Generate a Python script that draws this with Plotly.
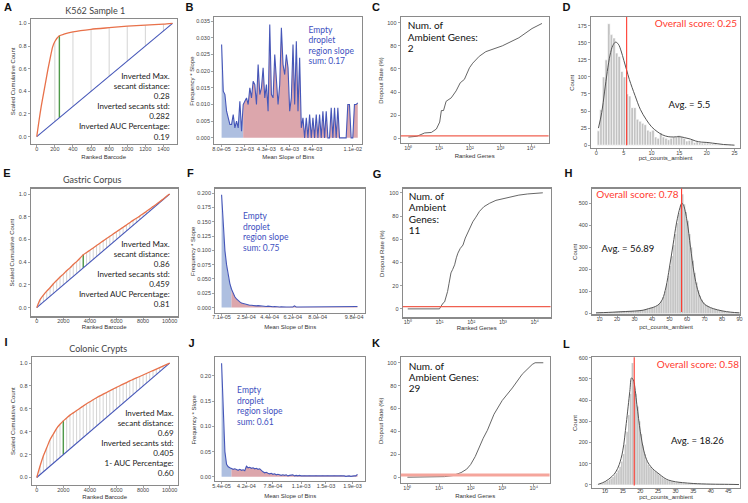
import plotly.graph_objects as go

W, H = 748, 503

# ======================= DATA =======================
# ---- Panel A : K562 Sample 1 (barcode rank curve) ----
a_barcode = [0, 25, 50, 75, 100, 125, 150, 175, 200, 250, 300, 400, 600, 800, 1000, 1200, 1400, 1500]
a_scaled = [0, 0.14, 0.27, 0.38, 0.49, 0.60, 0.70, 0.79, 0.84, 0.89, 0.905, 0.925, 0.948, 0.962, 0.975, 0.984, 0.993, 1.0]
a_secants = [200, 400, 600, 800, 1000, 1200, 1400]
a_max_secant = 250
a_text = ["Inverted Max.", "secant distance:", "0.28", "Inverted secants std:", "0.282",
          "Inverted AUC Percentage:", "0.19"]

# ---- Panel E : Gastric Corpus ----
e_barcode = list(range(0, 10001, 250))
e_scaled = [0, 0.07, 0.11, 0.145, 0.175, 0.21, 0.24, 0.27, 0.295, 0.325, 0.35, 0.38, 0.405, 0.435,
            0.465, 0.485, 0.505, 0.525, 0.547, 0.567, 0.588, 0.608, 0.628, 0.648, 0.668, 0.688,
            0.708, 0.728, 0.748, 0.768, 0.787, 0.806, 0.826, 0.847, 0.868, 0.89, 0.91, 0.932,
            0.955, 0.978, 1.0]
e_max_secant = 3500
e_text = ["Inverted Max.", "secant distance:", "0.86", "Inverted secants std:", "0.459",
          "Inverted AUC Percentage:", "0.81"]

# ---- Panel I : Colonic Crypts ----
i_barcode = list(range(0, 10001, 250))
i_scaled = [0, 0.10, 0.19, 0.26, 0.33, 0.38, 0.43, 0.465, 0.495, 0.52, 0.545, 0.565, 0.585, 0.605,
            0.625, 0.645, 0.662, 0.68, 0.697, 0.713, 0.728, 0.743, 0.758, 0.773, 0.788, 0.802,
            0.816, 0.83, 0.844, 0.857, 0.87, 0.883, 0.896, 0.909, 0.922, 0.935, 0.948, 0.961,
            0.974, 0.987, 1.0]
i_max_secant = 2000
i_text = ["Inverted Max.", "secant distance:", "0.69", "Inverted secants std:", "0.405",
          "1- AUC Percentage:", "0.60"]

# ---- Panel B : frequency * slope per bin ----
b_values = [0.028, 0.014, 0.013, 0.008, 0.006, 0.004, 0.004, 0.007, 0.003, 0.005, 0.003, 0.011,
            0.002, 0.010, 0.011, 0.012, 0.010, 0.015, 0.012, 0.017, 0.016, 0.010, 0.022, 0.013,
            0.015, 0.021, 0.012, 0.016, 0.008, 0.034, 0.013, 0.012, 0.025, 0.018, 0.010, 0.016,
            0.033, 0.022, 0.019, 0.025, 0.021, 0.008, 0.012, 0.028, 0.010, 0.029, 0.008, 0.024,
            0.003, 0.006, 0.000, 0.006, 0.000, 0.007, 0.000, 0.006, 0.000, 0.007, 0.000, 0.007,
            0.000, 0.008, 0.000, 0.008, 0.000, 0.000, 0.009, 0.000, 0.009, 0.000, 0.009, 0.000,
            0.000, 0.000, 0.000, 0.000, 0.010, 0.010, 0.000, 0.000, 0.010, 0.010, 0.0105]
b_split = 13
b_tickpos = [0, 14, 27, 41, 55, 79]
b_ticklabels = ["8.0e-05", "2.2e-03", "4.3e-03", "6.4e-03", "8.4e-03", "1.1e-02"]
b_text = ["Empty", "droplet", "region slope", "sum: 0.17"]

# ---- Panel F ----
f_values = [0.197, 0.14, 0.10, 0.075, 0.055, 0.042, 0.032, 0.025, 0.019, 0.015, 0.012, 0.010,
            0.008, 0.007, 0.006, 0.005, 0.0045, 0.004, 0.004, 0.0035, 0.003, 0.003, 0.0035, 0.003,
            0.0025, 0.002, 0.002, 0.002, 0.0025, 0.002, 0.0015, 0.0015, 0.002, 0.0015, 0.0015,
            0.001, 0.0015, 0.001, 0.001, 0.001, 0.001, 0.001, 0.0015, 0.001, 0.003, 0.001, 0.001,
            0.001, 0.001, 0.0008, 0.001, 0.0008, 0.001, 0.0008, 0.0008, 0.001, 0.0008, 0.0008,
            0.001, 0.0008, 0.0008, 0.0008, 0.001, 0.0008, 0.0008, 0.0008, 0.0008, 0.001, 0.0008,
            0.0008, 0.0008, 0.0008, 0.001, 0.0008, 0.0008, 0.0008, 0.0008, 0.0008, 0.001, 0.0008,
            0.0008, 0.001, 0.002]
f_split = 6
f_tickpos = [0, 15, 29, 43, 58, 80]
f_ticklabels = ["7.1e-05", "2.5e-04", "4.4e-04", "6.2e-04", "8.0e-04", "9.8e-04"]
f_text = ["Empty", "droplet", "region slope", "sum: 0.75"]

# ---- Panel J ----
j_values = [0.225, 0.12, 0.05, 0.025, 0.02, 0.018, 0.016, 0.015, 0.016, 0.014, 0.013, 0.015,
            0.013, 0.014, 0.012, 0.021, 0.018, 0.019, 0.017, 0.018, 0.016, 0.017, 0.015, 0.016,
            0.012, 0.010, 0.008, 0.009, 0.007, 0.006, 0.007, 0.005, 0.006, 0.004, 0.005, 0.004,
            0.003, 0.004, 0.003, 0.004, 0.002, 0.003, 0.003, 0.004, 0.002, 0.003, 0.002, 0.003,
            0.002, 0.002, 0.003, 0.002, 0.002, 0.003, 0.002, 0.002, 0.002, 0.003, 0.002, 0.002,
            0.002, 0.003, 0.002, 0.002, 0.003, 0.002, 0.002, 0.002, 0.003, 0.002, 0.002, 0.002,
            0.003, 0.002, 0.002, 0.001, 0.002, 0.002, 0.001, 0.002, 0.002, 0.002, 0.005]
j_split = 6
j_tickpos = [0, 15, 31, 48, 63, 79]
j_ticklabels = ["5.4e-05", "4.2e-04", "7.8e-04", "1.1e-03", "1.5e-03", "1.9e-03"]
j_text = ["Empty", "droplet", "region slope", "sum: 0.61"]

# ---- Panel C / G / K : dropout rate vs ranked genes ----
log_tickvals = [1, 10, 100, 1000, 10000]
log_ticktext = ["10⁰", "10¹", "10²", "10³", "10⁴"]

c_rank = [1, 1.9, 3.4, 5.6, 8.2, 10.5, 11.9, 14, 17, 25, 36, 49, 67, 98, 125, 205, 335, 1150, 4000, 10700, 22600]
c_dropout = [1, 1.7, 4.6, 5, 8, 14, 24, 24, 32, 35, 41, 48, 51, 61, 65, 71, 75, 80, 87, 95, 99.4]
c_text = ["Num. of", "Ambient Genes:", "2"]

g_rank = [1, 2, 5, 10, 11, 12, 13, 14.5, 16, 18, 20, 23, 26, 30, 34, 38, 45, 55, 65, 78, 95, 112,
          140, 182, 250, 380, 600, 1000, 2000, 3160, 6000, 10000, 18000]
g_dropout = [0, 0, 0, 0, 2, 4, 5, 6, 10, 15, 22, 31, 34, 38, 44, 48, 52, 55, 61, 66, 70, 75, 79,
             84, 88, 91, 93.5, 95, 97, 98, 99, 99.5, 100]
g_text = ["Num. of", "Ambient", "Genes:", "11"]

k_rank = [1, 5, 10, 15, 27, 50, 75, 100, 140, 186, 250, 340, 550, 1000, 2100, 4300, 8900, 11000, 20000]
k_dropout = [0, 0, 0, 0.5, 1.4, 4, 7, 11, 18, 26.5, 34, 41, 55, 67, 78, 90, 98.5, 100, 100]
k_text = ["Num. of", "Ambient Genes:", "29"]
ambient_threshold = 2

# ---- Panel D : pct_counts_ambient histogram ----
d_bin_start, d_bin_width = 0.4, 0.47
d_counts = [21, 52, 100, 125, 178, 162, 157, 135, 130, 108, 100, 75, 72, 55, 55, 38, 35, 32, 30,
            22, 20, 22, 12, 10, 18, 12, 10, 8, 10, 12, 12, 14, 12, 10, 6, 7, 8, 4, 5, 4, 3, 3, 3,
            2, 2, 2, 1, 1, 1, 1, 0, 1]
d_kde_x = [0.4, 1, 1.5, 2, 2.5, 3, 3.5, 4, 4.5, 5, 5.5, 6, 7, 8, 9, 10, 11, 12, 13, 14, 15, 16,
           17, 18, 19, 20, 21, 22, 23, 24, 25]
d_kde_y = [25, 48, 78, 108, 132, 146, 151, 148, 138, 124, 110, 96, 73, 52, 38, 27, 20, 15, 12.5,
           12, 12.5, 11, 9, 6, 4.5, 4, 3, 2, 1, 0.5, 0]
d_avg = 5.5
d_score = "Overall score: 0.25"

# ---- Panel H ----
h_bin_start, h_bin_width = 8.5, 1.0
h_counts = [3, 3, 4, 4, 5, 5, 5, 6, 6, 7, 7, 8, 8, 9, 9, 10, 10, 10, 10, 11, 11, 12, 12, 13, 14,
            15, 16, 18, 20, 22, 24, 26, 28, 30, 33, 38, 45, 55, 75, 100, 135, 170, 215, 260, 310,
            360, 410, 455, 490, 540, 495, 460, 420, 360, 300, 240, 185, 140, 105, 80, 62, 50, 42,
            36, 31, 27, 24, 21, 19, 17, 15, 13, 11, 10, 8, 7, 6, 5, 4, 3, 3, 2]
h_kde_x = [8, 15, 20, 25, 30, 35, 38, 40, 42, 44, 46, 48, 50, 52, 54, 56, 57, 58, 60, 62, 64, 66,
           68, 70, 72, 75, 80, 85, 90]
h_kde_y = [3, 5, 7, 9, 11, 15, 22, 26, 32, 42, 65, 120, 210, 310, 410, 480, 500, 490, 420, 300,
           185, 110, 65, 42, 32, 22, 12, 6, 3]
h_avg = 56.89
h_score = "Overall score: 0.78"

# ---- Panel L ----
l_bin_start, l_bin_width = 7.75, 0.5
l_counts = [1, 2, 4, 7, 10, 14, 18, 24, 30, 37, 45, 55, 68, 85, 110, 145, 190, 250, 330, 430, 575,
            480, 430, 370, 300, 240, 185, 145, 115, 95, 85, 78, 70, 62, 55, 48, 42, 36, 30, 25,
            21, 18, 16, 14, 12, 11, 10, 9, 8, 7, 7, 6, 6, 5, 5, 5, 4, 4, 4, 4, 3, 3, 3, 3, 3, 3,
            2, 2, 2, 2, 2, 2, 2, 2, 2, 1, 1, 1, 1, 1, 1]
l_kde_x = [8, 10, 12, 13, 14, 15, 16, 17, 17.5, 18, 19, 20, 21, 22, 23, 24, 25, 26, 27, 28, 30,
           32, 35, 40, 45, 48]
l_kde_y = [2, 15, 40, 60, 95, 160, 290, 440, 505, 495, 380, 250, 160, 110, 85, 68, 55, 42, 30,
           22, 14, 10, 6, 3, 2, 1]
l_avg = 18.26
l_score = "Overall score: 0.58"

# ======================= STYLE =======================
ORANGE = "#e8714a"
BLUE = "#4556b8"
GREEN = "#4f9a4a"
SECANT = "#cfcfcf"
FILL_BLUE = "rgba(160,180,218,0.85)"
FILL_PINK = "rgba(214,150,158,0.85)"
TEXT_BLUE = "#4050c0"
RED = "#ff3b30"
BAR = "#c2c2c2"
FRAME = "#8a8a8a"
TICKFONT = dict(size=5.5, color="#444", family="Liberation Sans")
TEXT_FAMILY = "Lato"

fig = go.Figure()
layout = dict(width=W, height=H, margin=dict(l=0, r=0, t=0, b=0), showlegend=False,
              paper_bgcolor="white", plot_bgcolor="rgba(0,0,0,0)")
annotations = []
shapes = []
OV_X, OV_Y = "x13", "y13"   # full-page overlay axes used for text placement (pixel units)


def px_dom(box):
    l, t, r, b = box
    return [l / W, r / W], [1 - b / H, 1 - t / H]


def set_axes(n, box, xr, yr, xkw=None, ykw=None):
    xd, yd = px_dom(box)
    base = dict(showline=True, mirror=True, linecolor=FRAME, linewidth=1.2, showgrid=False,
                zeroline=False, ticks="outside", ticklen=2, tickwidth=0.6, tickcolor="#666",
                tickfont=TICKFONT, fixedrange=True, tickangle=0)
    sfx = str(n) if n > 1 else ""
    xa = dict(base, domain=xd, range=xr, anchor="y" + sfx, ticklabelstandoff=-3)
    ya = dict(base, domain=yd, range=yr, anchor="x" + sfx)
    xa.update(xkw or {})
    ya.update(ykw or {})
    layout["xaxis" + sfx] = xa
    layout["yaxis" + sfx] = ya
    return "x" + sfx, "y" + sfx


def txt(x, y, s, size=8, color="#222", pos="middle center", family=TEXT_FAMILY):
    fig.add_trace(go.Scatter(x=[x], y=[y], mode="text", text=[s], textposition=pos,
                             textfont=dict(size=size, color=color, family=family),
                             xaxis=OV_X, yaxis=OV_Y, hoverinfo="skip", cliponaxis=False))


def vtxt(x, y, s, size=6, color="#333", family="Liberation Sans"):
    annotations.append(dict(xref="paper", yref="paper", x=x / W, y=1 - y / H, text=s,
                            showarrow=False, xanchor="center", yanchor="middle", textangle=-90,
                            font=dict(size=size, color=color, family=family)))


def axis_titles(xt, xpos, yt, ypos):
    txt(xpos[0], xpos[1], xt, size=6, color="#333", family="Liberation Sans")
    vtxt(ypos[0], ypos[1], yt)


# ---------- barcode-rank panels ----------
def barcode_panel(n, box, xr, yr, bx, by, secants, max_sec, lines, text_right, text_y0, xticks):
    xa, ya = set_axes(n, box, xr, yr,
                      dict(tickvals=xticks, tickformat="d"),
                      dict(tickvals=[0, 0.2, 0.4, 0.6, 0.8, 1.0], tickformat=".1f"))
    xmax = bx[-1]
    sx, sy = [], []
    for s in secants:
        idx = bx.index(s)
        sx += [s, s, None]
        sy += [s / xmax, by[idx], None]
    fig.add_trace(go.Scatter(x=sx, y=sy, mode="lines", line=dict(color=SECANT, width=0.9),
                             xaxis=xa, yaxis=ya))
    idx = bx.index(max_sec)
    fig.add_trace(go.Scatter(x=[max_sec, max_sec], y=[max_sec / xmax, by[idx]], mode="lines",
                             line=dict(color=GREEN, width=1.4), xaxis=xa, yaxis=ya))
    fig.add_trace(go.Scatter(x=[0, xmax], y=[0, 1], mode="lines", line=dict(color=BLUE, width=1.1),
                             xaxis=xa, yaxis=ya))
    fig.add_trace(go.Scatter(x=bx, y=by, mode="lines",
                             line=dict(color=ORANGE, width=1.3, shape="spline", smoothing=0.6),
                             xaxis=xa, yaxis=ya))
    return lines, text_right, text_y0


barcode_texts = [
    barcode_panel(1, (28, 17, 175, 143), [-66, 1545], [-0.064, 1.04], a_barcode, a_scaled,
                  a_secants, a_max_secant, a_text, 168, 76, [0, 200, 400, 600, 800, 1000, 1200, 1400]),
    barcode_panel(5, (28, 188, 176, 317), [-450, 10600], [-0.078, 1.049], e_barcode, e_scaled,
                  e_barcode[1:-1], e_max_secant, e_text, 168, 245, [0, 2000, 4000, 6000, 8000, 10000]),
    barcode_panel(9, (29, 358, 176, 487), [-375, 10600], [-0.067, 1.052], i_barcode, i_scaled,
                  i_barcode[1:-1], i_max_secant, i_text, 172, 415, [0, 2000, 4000, 6000, 8000, 10000]),
]


# ---------- slope panels ----------
def slope_panel(n, box, xr, yr, vals, split, tpos, tlab, yticks, yfmt, lines, tx, ty0):
    xa, ya = set_axes(n, box, xr, yr, dict(tickvals=tpos, ticktext=tlab),
                      dict(tickvals=yticks, tickformat=yfmt))
    idx = list(range(len(vals)))
    fig.add_trace(go.Scatter(x=idx[:split + 1], y=vals[:split + 1], mode="none", fill="tozeroy",
                             fillcolor=FILL_BLUE, xaxis=xa, yaxis=ya))
    fig.add_trace(go.Scatter(x=idx[split:], y=vals[split:], mode="none", fill="tozeroy",
                             fillcolor=FILL_PINK, xaxis=xa, yaxis=ya))
    fig.add_trace(go.Scatter(x=idx, y=vals, mode="lines", line=dict(color=BLUE, width=1.1),
                             xaxis=xa, yaxis=ya))
    return lines, tx, ty0


slope_texts = [
    slope_panel(2, (213, 15, 362, 143), [-4.4, 84.6], [-0.0018, 0.0363], b_values, b_split,
                b_tickpos, b_ticklabels, [0, 0.005, 0.01, 0.015, 0.02, 0.025, 0.03, 0.035], ".3f",
                b_text, 308, 29),
    slope_panel(6, (214, 188, 365, 313), [-3.8, 86.6], [-0.0086, 0.208], f_values, f_split,
                f_tickpos, f_ticklabels, [0, 0.025, 0.05, 0.075, 0.1, 0.125, 0.15, 0.175, 0.2], ".3f",
                f_text, 242, 217),
    slope_panel(10, (214, 358, 365, 483), [-3.8, 86.6], [-0.0085, 0.237], j_values, j_split,
                j_tickpos, j_ticklabels, [0, 0.05, 0.1, 0.15, 0.2], ".2f",
                j_text, 236, 392),
]


# ---------- dropout panels ----------
def dropout_panel(n, box, xr, yr, rank, drop, lines, tx, ty0, red_w, red_c):
    xa, ya = set_axes(n, box, xr, yr,
                      dict(type="log", tickvals=log_tickvals, ticktext=log_ticktext),
                      dict(tickvals=[0, 20, 40, 60, 80, 100]))
    shapes.append(dict(type="line", xref=xa + " domain", yref=ya, x0=0, x1=1,
                       y0=ambient_threshold, y1=ambient_threshold,
                       line=dict(color=red_c, width=red_w)))
    fig.add_trace(go.Scatter(x=rank, y=drop, mode="lines", line=dict(color="#555", width=0.9),
                             xaxis=xa, yaxis=ya))
    return lines, tx, ty0


dropout_texts = [
    dropout_panel(3, (401, 15, 550, 142), [-0.247, 4.57], [-4, 105.1], c_rank, c_dropout,
                  c_text, 408, 25, 1.2, "#f06050"),
    dropout_panel(7, (403, 188, 552, 318), [-0.157, 4.5], [-7.4, 103.7], g_rank, g_dropout,
                  g_text, 409, 197, 1.2, "#f06050"),
    dropout_panel(11, (401, 358, 551, 485), [-0.21, 4.5], [-5.2, 104.9], k_rank, k_dropout,
                  k_text, 409, 368, 3, "#f5a59c"),
]


# ---------- histogram panels ----------
def hist_panel(n, box, xr, yr, start, width, counts, kx, ky, avg, xticks, yticks, bar_line, standoff=-3):
    xa, ya = set_axes(n, box, xr, yr, dict(tickvals=xticks, ticklabelstandoff=standoff),
                      dict(tickvals=yticks))
    centers = [start + width * k for k in range(len(counts))]
    fig.add_trace(go.Bar(x=centers, y=counts, width=width,
                         marker=dict(color=BAR, line=dict(color="white", width=bar_line)),
                         xaxis=xa, yaxis=ya))
    fig.add_trace(go.Scatter(x=kx, y=ky, mode="lines", line=dict(color="#555", width=1, shape="spline"),
                             xaxis=xa, yaxis=ya))
    shapes.append(dict(type="line", xref=xa, yref=ya + " domain", x0=avg, x1=avg, y0=0.02, y1=1,
                       line=dict(color=RED, width=1.1)))


hist_panel(4, (593, 15, 743, 147), [-0.9, 26.0], [-3.9, 188], d_bin_start, d_bin_width, d_counts,
           d_kde_x, d_kde_y, d_avg, [0, 5, 10, 15, 20, 25], [0, 25, 50, 75, 100, 125, 150, 175], 0.6)
hist_panel(8, (594, 188, 743, 315), [5.84, 90.3], [-4.5, 566], h_bin_start, h_bin_width, h_counts,
           h_kde_x, h_kde_y, h_avg, [10, 20, 30, 40, 50, 60, 70, 80, 90], [0, 100, 200, 300, 400, 500], 0.2)
hist_panel(12, (594, 358, 743, 490), [6.34, 48.3], [-15.8, 603], l_bin_start, l_bin_width, l_counts,
           l_kde_x, l_kde_y, l_avg, [10, 15, 20, 25, 30, 35, 40, 45], [0, 100, 200, 300, 400, 500, 600], 0.2,
           standoff=-5)
layout["bargap"] = 0

# overlay axes for text (pixel coordinates)
layout["xaxis13"] = dict(domain=[0, 1], range=[0, W], visible=False, fixedrange=True, anchor="y13")
layout["yaxis13"] = dict(domain=[0, 1], range=[H, 0], visible=False, fixedrange=True, anchor="x13")

# ---------- texts ----------
for lines, xr_, y0 in barcode_texts:
    for k, s in enumerate(lines):
        txt(xr_, y0 + k * 10.1, s, size=8, color="#222", pos="middle left")
for lines, xl, y0 in slope_texts:
    for k, s in enumerate(lines):
        txt(xl, y0 + k * 10.6, s, size=8.5, color=TEXT_BLUE, pos="middle right")
for lines, xl, y0 in dropout_texts:
    for k, s in enumerate(lines):
        txt(xl, y0 + k * 11.5, s, size=10, color="#111", pos="middle right")

txt(740, 23, d_score, size=10, color=RED, pos="middle left")
txt(692, 104, "Avg. = %s" % d_avg, size=9.5, color="#111")
txt(598, 195, h_score, size=10, color=RED, pos="middle right")
txt(630, 250, "Avg. = %s" % h_avg, size=9.5, color="#111")
txt(742, 366, l_score, size=10, color=RED, pos="middle left")
txt(700, 443, "Avg. = %s" % l_avg, size=9.5, color="#111")

txt(93, 10, "K562 Sample 1", size=9, color="#444")
txt(90, 180, "Gastric Corpus", size=9, color="#444")
txt(96, 351, "Colonic Crypts", size=9, color="#444")

for (xt, yt, x0, x1, t, b, xlab, ylab) in [
    (10, 157, 28, 175, 17, 143, "Ranked Barcode", "Scaled Cumulative Count"),
    (191, 157, 213, 362, 15, 143, "Mean Slope of Bins", "Frequency * Slope"),
    (381, 156, 401, 550, 15, 142, "Ranked Genes", "Dropout Rate (%)"),
    (574, 158, 593, 743, 15, 147, "pct_counts_ambient", "Count"),
    (10, 328, 28, 176, 188, 317, "Ranked Barcode", "Scaled Cumulative Count"),
    (191, 328, 214, 365, 188, 313, "Mean Slope of Bins", "Frequency * Slope"),
    (382, 329, 403, 552, 188, 318, "Ranked Genes", "Dropout Rate (%)"),
    (576, 328, 594, 743, 188, 315, "pct_counts_ambient", "Count"),
    (10, 499, 29, 176, 358, 487, "Ranked Barcode", "Scaled Cumulative Count"),
    (193, 498, 214, 365, 358, 483, "Mean Slope of Bins", "Frequency * Slope"),
    (381, 498, 401, 551, 358, 485, "Ranked Genes", "Dropout Rate (%)"),
    (576, 499.5, 594, 743, 358, 490, "pct_counts_ambient", "Count"),
]:
    axis_titles(xlab, ((x0 + x1) / 2, yt), ylab, (xt, (t + b) / 2))

for (x, y, s) in [(5, 6, "A"), (188, 6, "B"), (376, 6, "C"), (568, 6, "D"),
                  (4, 174, "E"), (189, 174, "F"), (377, 175, "G"), (570, 174, "H"),
                  (3, 344, "I"), (190, 345, "J"), (376, 345, "K"), (568, 346, "L")]:
    txt(x, y, "<b>%s</b>" % s, size=11, color="#111", family="Liberation Sans")

layout["annotations"] = annotations
layout["shapes"] = shapes
fig.update_layout(**layout)
fig.write_html("out.html", config={"displayModeBar": False, "staticPlot": True},
               post_script="document.body.style.margin='0';")
